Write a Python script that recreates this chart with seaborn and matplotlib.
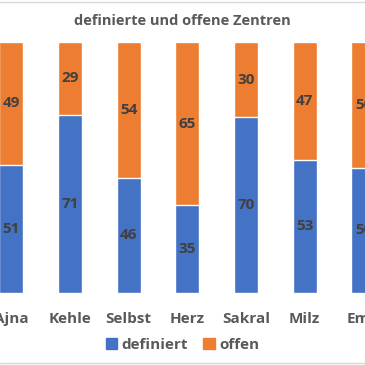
import seaborn as sns
import matplotlib.pyplot as plt
import matplotlib.patches as mpatches
from matplotlib.lines import Line2D
import pandas as pd

# chart data
zentren = ['Ajna', 'Kehle', 'Selbst', 'Herz', 'Sakral', 'Milz', 'Emo']
definiert = [51, 71, 46, 35, 70, 53, 50]
offen = [49, 29, 54, 65, 30, 47, 50]

BLUE = '#4472C4'
ORANGE = '#ED7D31'
TXT = '#404040'


def main():
    sns.set_theme(style='white')
    plt.rcParams['font.family'] = ['Open Sans', 'DejaVu Sans']

    df = pd.DataFrame({'zentrum': zentren, 'definiert': definiert, 'offen': offen})
    df['gesamt'] = df['definiert'] + df['offen']

    fig = plt.figure(figsize=(3.65, 3.65), dpi=100)
    ax = fig.add_axes([0, 72 / 365, 1, 251 / 365])

    # stacked bars: total in orange, definiert in blue on top of it
    sns.barplot(data=df, x='zentrum', y='gesamt', order=zentren, color=ORANGE,
                width=0.41, saturation=1, ax=ax)
    sns.barplot(data=df, x='zentrum', y='definiert', order=zentren, color=BLUE,
                width=0.41, saturation=1, ax=ax)

    # labels centred in each segment
    for i, (d, o) in enumerate(zip(definiert, offen)):
        ax.text(i, d / 2, str(d), ha='center', va='center', color=TXT,
                fontsize=11, fontweight='bold')
        ax.text(i, d + o / 2, str(o), ha='center', va='center', color=TXT,
                fontsize=11, fontweight='bold')

    ax.set_ylim(0, 100)
    ax.set_xlim(-0.193, 6.026)
    ax.set_yticks([])
    ax.set_xlabel('')
    ax.set_ylabel('')
    ax.tick_params(axis='x', length=0, pad=14, labelsize=11, labelcolor='#595959')
    for lab in ax.get_xticklabels():
        lab.set_fontweight('bold')
    sns.despine(ax=ax, left=True, bottom=True)

    fig.text(0.5, 1 - 21 / 365, 'definierte und offene Zentren', ha='center', va='center',
             fontsize=10.5, fontweight='bold', color='#595959')

    handles = [mpatches.Patch(color=BLUE, label='definiert'),
               mpatches.Patch(color=ORANGE, label='offen')]
    leg = fig.legend(handles=handles, loc='center', bbox_to_anchor=(0.5, 20 / 365), ncol=2,
                     frameon=False, fontsize=11, handlelength=0.75, handleheight=0.75,
                     handletextpad=0.3, columnspacing=1.0)
    for t in leg.get_texts():
        t.set_color('#595959')
        t.set_fontweight('bold')

    # chart border lines (top and bottom of the cropped frame)
    fig.add_artist(Line2D([0, 1], [1 - 2 / 365, 1 - 2 / 365], color='#D9D9D9', lw=1))
    fig.add_artist(Line2D([0, 1], [2 / 365, 2 / 365], color='#D9D9D9', lw=1))

    fig.savefig('out.png', dpi=100)


if __name__ == "__main__":
    main()
